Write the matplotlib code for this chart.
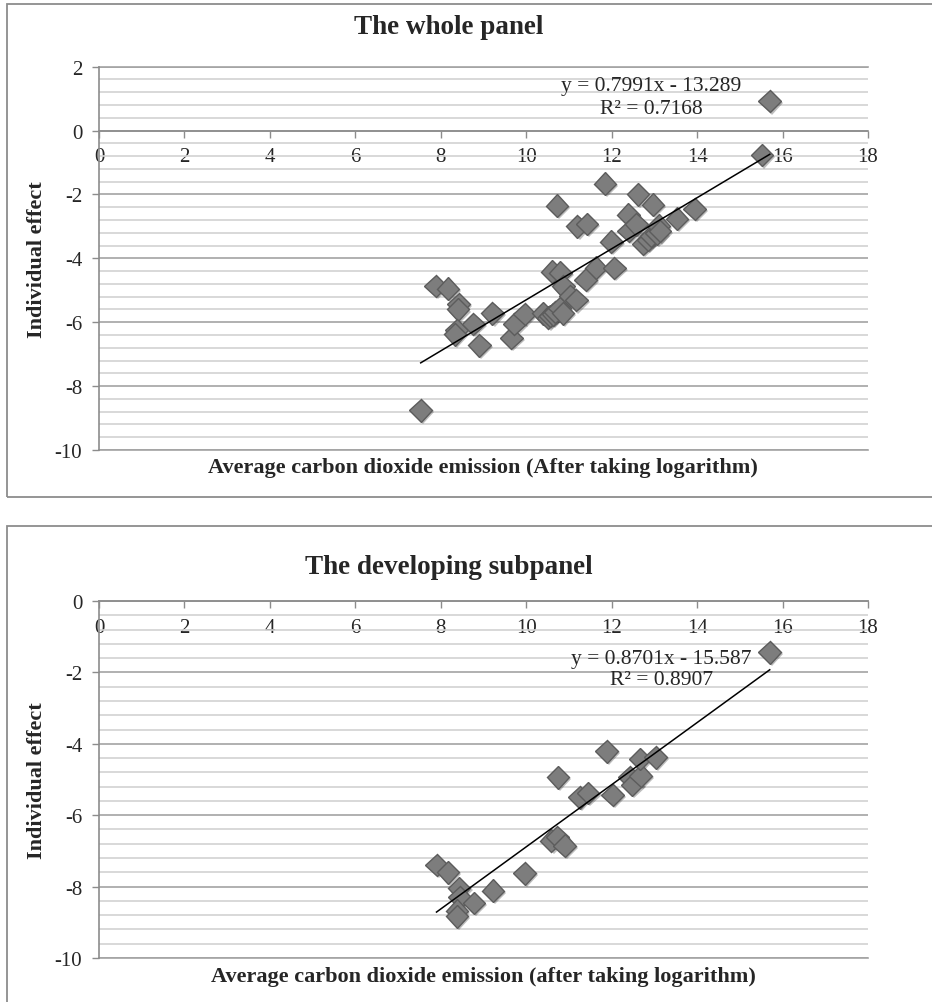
import matplotlib
matplotlib.use('Agg')
import matplotlib.pyplot as plt
import matplotlib.patheffects as pe
from matplotlib.patches import Rectangle
from matplotlib.ticker import MultipleLocator

# ---------------- data ----------------
whole_x = [7.53, 7.88, 8.17, 8.42, 8.40, 8.37, 8.33, 8.76, 8.90, 9.21, 9.65, 9.72,
           9.96, 10.39, 10.52, 10.56, 10.63, 10.68, 10.78, 10.86, 10.61, 10.80, 10.87,
           11.03, 11.17, 11.39, 11.63, 12.06, 10.72, 11.20, 11.42, 11.84, 11.99, 12.39,
           12.40, 12.58, 12.62, 12.74, 12.85, 12.92, 12.97, 13.05, 13.10, 13.13, 13.53,
           13.94, 15.52, 15.70]
whole_y = [-8.76, -4.86, -4.95, -5.44, -5.60, -6.24, -6.38, -6.05, -6.72, -5.72, -6.49, -6.06,
           -5.74, -5.72, -5.86, -5.80, -5.75, -5.68, -5.56, -5.72, -4.42, -4.45, -4.88,
           -5.18, -5.31, -4.67, -4.29, -4.30, -2.35, -3.00, -2.92, -1.66, -3.48, -2.63,
           -3.14, -2.94, -2.00, -3.55, -3.42, -3.30, -2.32, -3.22, -2.98, -3.15, -2.76,
           -2.45, -0.77, 0.92]
whole_slope, whole_intercept, whole_r2 = 0.7991, -13.289, 0.7168

dev_x = [7.90, 8.17, 8.43, 8.44, 8.78, 8.38, 8.38, 9.22, 9.96, 10.59, 10.73, 10.90,
         10.74, 11.25, 11.45, 12.02, 11.88, 12.42, 12.48, 12.68, 12.66, 13.03, 15.70]
dev_y = [-7.39, -7.60, -8.05, -8.30, -8.46, -8.67, -8.83, -8.11, -7.63, -6.71, -6.61, -6.85,
         -4.94, -5.50, -5.38, -5.43, -4.21, -4.94, -5.15, -4.89, -4.43, -4.38, -1.44]
dev_slope, dev_intercept, dev_r2 = 0.8701, -15.587, 0.8907

titles = ["The whole panel", "The developing subpanel"]
xlabels = ["Average carbon dioxide emission (After taking logarithm)",
           "Average carbon dioxide emission (after taking logarithm)"]
ylabel = "Individual effect"

# ---------------- figure ----------------
plt.rcParams['font.family'] = ['Liberation Serif', 'DejaVu Serif']
plt.rcParams['axes.unicode_minus'] = False
W, H = 932, 1003
fig = plt.figure(figsize=(W / 100, H / 100), dpi=100)
TXT = '#262626'


def px_axes(l, t, r, b):
    return fig.add_axes([l / W, 1 - b / H, (r - l) / W, (b - t) / H])


def frame(l, t, r, b):
    fig.patches.append(Rectangle((l / W, 1 - b / H), (r - l) / W, (b - t) / H,
                                 transform=fig.transFigure, fill=False,
                                 ec='#8c8c8c', lw=1.3))


def setup(ax, ymin, ymax):
    ax.set_xlim(0, 18)
    ax.set_ylim(ymin, ymax)
    ax.xaxis.set_major_locator(MultipleLocator(2))
    ax.yaxis.set_major_locator(MultipleLocator(2))
    ax.yaxis.set_minor_locator(MultipleLocator(0.4))
    for s in ['top', 'right']:
        ax.spines[s].set_visible(False)
    ax.spines['bottom'].set_position(('data', 0))
    for s in ['left', 'bottom']:
        ax.spines[s].set_color('#8c8c8c')
        ax.spines[s].set_linewidth(1.2)
    ax.grid(which='major', axis='y', color='#a3a3a3', lw=1.2)
    ax.grid(which='minor', axis='y', color='#d2d2d2', lw=1.2)
    ax.tick_params(axis='y', which='minor', length=0)
    ax.tick_params(axis='both', which='major', direction='out', length=5,
                   width=1.0, color='#8c8c8c', labelsize=15, labelcolor=TXT)
    ax.tick_params(axis='y', pad=7)
    ax.tick_params(axis='x', pad=7)
    for yy in (ymin, ymax):
        ax.axhline(yy, color='#a3a3a3', lw=1.2, clip_on=False, zorder=0.5)
    ax.set_axisbelow(True)
    ax.patch.set_alpha(0)


def draw(ax, xs, ys, slope, intercept):
    ax.plot(xs, ys, 'D', ms=11.5, mfc='#7d7d7d', mec='#5c5c5c', mew=1.0,
            zorder=3, clip_on=False,
            path_effects=[pe.SimplePatchShadow(offset=(1.5, -1.5), alpha=0.3),
                          pe.Normal()])
    lx = [min(xs), max(xs)]
    ax.plot(lx, [slope * v + intercept for v in lx], color='black', lw=1.1, zorder=4)


# top panel
frame(7, 5, 936, 498)
ax1 = px_axes(99, 67.7, 868, 451)
setup(ax1, -10, 2)
draw(ax1, whole_x, whole_y, whole_slope, whole_intercept)
ax1.text(12.92, 1.05, f"y = {whole_slope}x - {abs(whole_intercept)}\nR² = {whole_r2}",
         ha='center', va='center', fontsize=15.5, color=TXT, linespacing=1.25, zorder=5)
fig.text(449 / W, 1 - 27 / H, titles[0], ha='center', va='center',
         fontsize=19.5, weight='bold', color=TXT)
fig.text(483 / W, 1 - 468 / H, xlabels[0], ha='center', va='center',
         fontsize=16, weight='bold', color=TXT)
fig.text(37 / W, 1 - ((67.7 + 451) / 2) / H, ylabel, ha='center', va='center',
         rotation=90, fontsize=16, weight='bold', color=TXT)

# bottom panel
frame(7, 527, 936, 1008)
ax2 = px_axes(99, 602, 868, 959)
setup(ax2, -10, 0)
draw(ax2, dev_x, dev_y, dev_slope, dev_intercept)
ax2.text(13.16, -1.90, f"y = {dev_slope}x - {abs(dev_intercept)}\nR² = {dev_r2}",
         ha='center', va='center', fontsize=15.5, color=TXT, linespacing=1.1, zorder=5)
fig.text(449 / W, 1 - 567 / H, titles[1], ha='center', va='center',
         fontsize=19.5, weight='bold', color=TXT)
fig.text(483 / W, 1 - 977 / H, xlabels[1], ha='center', va='center',
         fontsize=16, weight='bold', color=TXT)
fig.text(37 / W, 1 - ((602 + 959) / 2) / H, ylabel, ha='center', va='center',
         rotation=90, fontsize=16, weight='bold', color=TXT)

fig.savefig('out.png', dpi=100)
